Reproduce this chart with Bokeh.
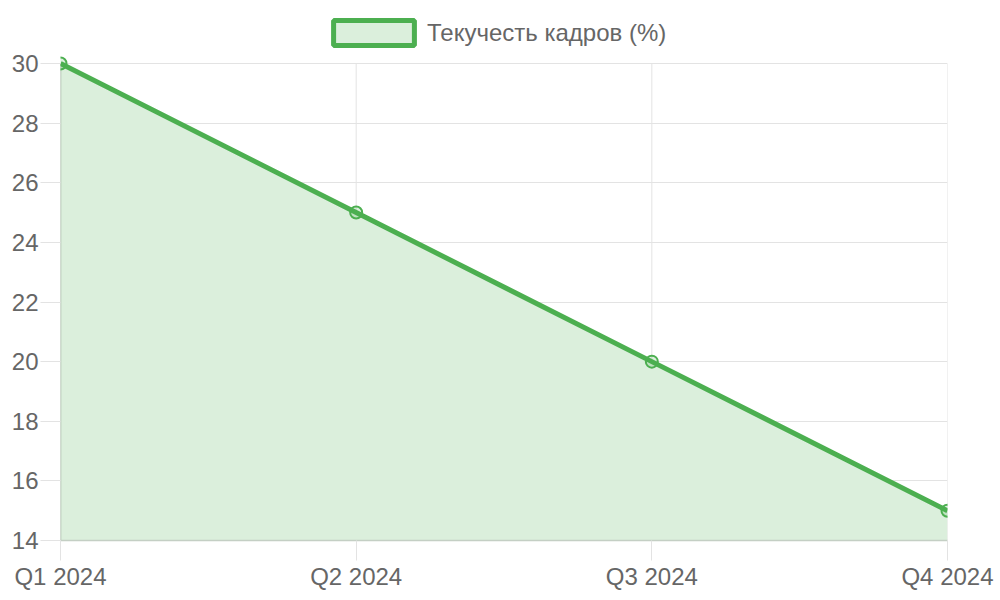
from bokeh.plotting import figure
from bokeh.models import FixedTicker, Legend, LegendItem, ColumnDataSource
from bokeh.embed import file_html
from bokeh.resources import INLINE

categories = ["Q1 2024", "Q2 2024", "Q3 2024", "Q4 2024"]
turnover = [30, 25, 20, 15]
series_name = "Текучесть кадров (%)"
y_ticks = [14, 16, 18, 20, 22, 24, 26, 28, 30]

GREEN = "#4caf50"
FILL = "#dbefdc"
GRID = "#e3e3e3"
FONT = "Liberation Sans"

W, H = 1000, 600
LEFT, RIGHT, TOP_GAP, BOTTOM = 60, 53, 63, 60   # plot box in pixels
ymin, ymax = y_ticks[0], y_ticks[-1]
px_per_unit = (H - BOTTOM - TOP_GAP) / (ymax - ymin)
y_top = ymax + TOP_GAP / px_per_unit            # frame extends to top edge (room for legend)

xs = list(range(len(categories)))
src = ColumnDataSource(dict(x=xs, y=turnover, base=[ymin] * len(xs)))

p = figure(width=W, height=H, output_backend="svg", toolbar_location=None,
           x_range=(0, len(categories) - 1), y_range=(ymin, y_top),
           min_border_left=LEFT, min_border_right=RIGHT, min_border_bottom=BOTTOM, min_border_top=0)
p.outline_line_color = None
p.background_fill_color = "white"
p.border_fill_color = "white"

p.xgrid.visible = False
p.ygrid.grid_line_color = GRID
p.ygrid.grid_line_width = 1

# vertical grid lines, only over the value span
p.segment(x0=xs[1:], x1=xs[1:], y0=[ymin] * (len(xs) - 1), y1=[ymax] * (len(xs) - 1),
          line_color=GRID, line_width=1)

p.varea(x="x", y1="base", y2="y", source=src, fill_color=FILL, fill_alpha=1)
# left border line
p.segment(x0=[xs[0]], x1=[xs[0]], y0=[ymin], y1=[ymax], line_color="#a9b9a9", line_width=1.5)
p.line(x="x", y="y", source=src, line_color=GREEN, line_width=5)
p.scatter(x="x", y="y", source=src, size=12, marker="circle", line_color=GREEN,
          line_width=2, fill_color=GREEN, fill_alpha=0.2)

# legend swatch renderer (kept out of view)
dummy = p.quad(left=[-10], right=[-9], top=[0], bottom=[-1], fill_color=FILL,
               line_color=GREEN, line_width=5)
legend = Legend(items=[LegendItem(label=series_name, renderers=[dummy])],
                orientation="horizontal", location=(263, 492),
                glyph_width=101, glyph_height=31, label_standoff=3,
                label_text_font=FONT, label_text_font_size="24px", label_text_color="#666666",
                border_line_alpha=0, background_fill_alpha=0, padding=0, margin=0)
p.add_layout(legend)

for ax in (p.xaxis[0], p.yaxis[0]):
    ax.major_tick_line_color = GRID
    ax.major_tick_out = 20
    ax.major_tick_in = 0
    ax.minor_tick_line_color = None
    ax.major_label_text_font = FONT
    ax.major_label_text_font_size = "24px"
    ax.major_label_text_color = "#666666"
    ax.major_label_standoff = 2

p.yaxis.axis_line_color = None
p.xaxis.axis_line_color = "#c4cfc4"
p.xaxis.axis_line_width = 1.5

p.xaxis.ticker = FixedTicker(ticks=xs)
p.xaxis.major_label_overrides = {i: c for i, c in zip(xs, categories)}
p.yaxis.ticker = FixedTicker(ticks=y_ticks)

open("out.html", "w").write(file_html(p, INLINE))
